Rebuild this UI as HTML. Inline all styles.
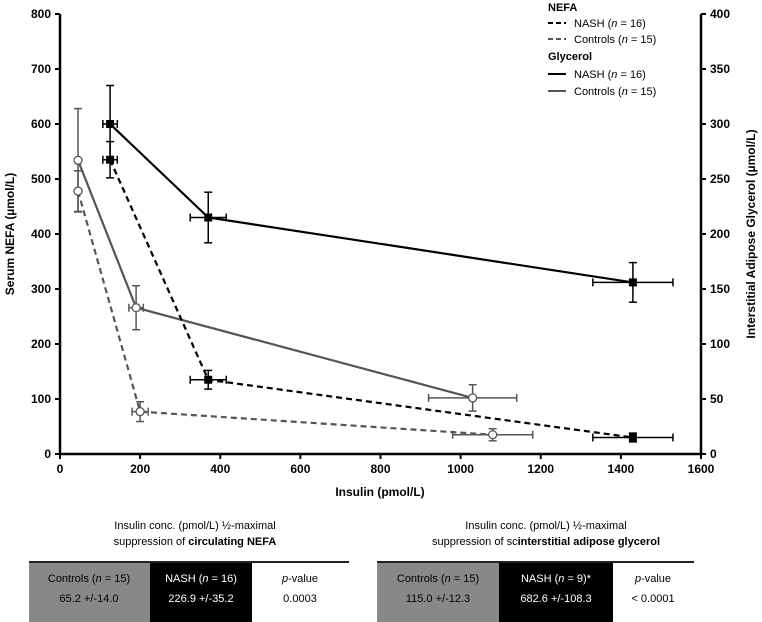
<!DOCTYPE html>
<html><head><meta charset="utf-8"><style>
body{margin:0;background:#fff;width:762px;height:622px;overflow:hidden;font-family:"Liberation Sans",Arial,sans-serif}
svg{position:absolute;left:0;top:0}
</style></head><body>
<svg width="762" height="622" font-family="Liberation Sans, Arial, sans-serif">
<g id="axes"></g>
<g id="series"></g>
<g id="legend">
 <text x="548" y="11" font-size="11" font-weight="bold">NEFA</text>
 <line x1="548" y1="23" x2="566" y2="23" stroke="#000" stroke-width="2" stroke-dasharray="5,3"/>
 <text x="574" y="27" font-size="11">NASH (<tspan font-style="italic">n</tspan> = 16)</text>
 <line x1="548" y1="39" x2="566" y2="39" stroke="#555" stroke-width="2" stroke-dasharray="5,3"/>
 <text x="574" y="43" font-size="11">Controls (<tspan font-style="italic">n</tspan> = 15)</text>
 <text x="548" y="60" font-size="11" font-weight="bold">Glycerol</text>
 <line x1="548" y1="74" x2="566" y2="74" stroke="#000" stroke-width="2"/>
 <text x="574" y="78" font-size="11">NASH (<tspan font-style="italic">n</tspan> = 16)</text>
 <line x1="548" y1="91" x2="566" y2="91" stroke="#555" stroke-width="2"/>
 <text x="574" y="95" font-size="11">Controls (<tspan font-style="italic">n</tspan> = 15)</text>
</g>
<text x="380" y="496" text-anchor="middle" font-size="12" font-weight="bold">Insulin (pmol/L)</text>
<text transform="translate(14,234) rotate(-90)" text-anchor="middle" font-size="12" font-weight="bold">Serum NEFA (µmol/L)</text>
<text transform="translate(755,234) rotate(-90)" text-anchor="middle" font-size="12" font-weight="bold">Interstitial Adipose Glycerol (µmol/L)</text>

<g font-size="11">
 <text x="195" y="529" text-anchor="middle">Insulin conc. (pmol/L) ½-maximal</text>
 <text x="195" y="545" text-anchor="middle">suppression of <tspan font-weight="bold">circulating NEFA</tspan></text>
 <rect x="29" y="562" width="121" height="60" fill="#888"/>
 <rect x="150" y="562" width="102" height="60" fill="#000"/>
 <line x1="29" y1="562" x2="349" y2="562" stroke="#222" stroke-width="2"/>
 <text x="89" y="582" text-anchor="middle">Controls (<tspan font-style="italic">n</tspan> = 15)</text>
 <text x="201" y="582" text-anchor="middle" fill="#fff">NASH (<tspan font-style="italic">n</tspan> = 16)</text>
 <text x="300" y="582" text-anchor="middle"><tspan font-style="italic">p</tspan>-value</text>
 <text x="89" y="602" text-anchor="middle">65.2 +/-14.0</text>
 <text x="201" y="602" text-anchor="middle" fill="#fff">226.9 +/-35.2</text>
 <text x="300" y="602" text-anchor="middle">0.0003</text>
</g>
<g font-size="11">
 <text x="546" y="529" text-anchor="middle">Insulin conc. (pmol/L) ½-maximal</text>
 <text x="546" y="545" text-anchor="middle">suppression of sc<tspan font-weight="bold">interstitial adipose glycerol</tspan></text>
 <rect x="377" y="562" width="122" height="60" fill="#888"/>
 <rect x="499" y="562" width="114" height="60" fill="#000"/>
 <line x1="377" y1="562" x2="694" y2="562" stroke="#222" stroke-width="2"/>
 <text x="438" y="582" text-anchor="middle">Controls (<tspan font-style="italic">n</tspan> = 15)</text>
 <text x="556" y="582" text-anchor="middle" fill="#fff">NASH (<tspan font-style="italic">n</tspan> = 9)*</text>
 <text x="653" y="582" text-anchor="middle"><tspan font-style="italic">p</tspan>-value</text>
 <text x="438" y="602" text-anchor="middle">115.0 +/-12.3</text>
 <text x="556" y="602" text-anchor="middle" fill="#fff">682.6 +/-108.3</text>
 <text x="653" y="602" text-anchor="middle">&lt; 0.0001</text>
</g>
</svg>
<script>
const xTicks=[0,200,400,600,800,1000,1200,1400,1600];
const yLeftTicks=[0,100,200,300,400,500,600,700,800];
const yRightTicks=[0,50,100,150,200,250,300,350,400];
// NEFA (left axis)
const nefaNashX=[125,370,1430], nefaNashY=[535,135,30], nefaNashYErr=[33,17,8], nefaNashXErr=[18,45,100];
const nefaCtrlX=[45,200,1080], nefaCtrlY=[478,77,35], nefaCtrlYErr=[37,18,11], nefaCtrlXErr=[0,20,100];
// Glycerol (right axis)
const glyNashX=[125,370,1430], glyNashY=[300,215,156], glyNashYErr=[35,23,18], glyNashXErr=[18,45,100];
const glyCtrlX=[45,190,1030], glyCtrlY=[267,133,51], glyCtrlYErr=[47,20,12], glyCtrlXErr=[0,18,110];

const NS='http://www.w3.org/2000/svg';
const X0=60,X1=701,Y0=454,Y1=14;
const sx=v=>X0+(X1-X0)*v/1600;
const syL=v=>Y0-(Y0-Y1)*v/800;
const syR=v=>Y0-(Y0-Y1)*v/400;
function mk(tag,attrs,parent){const e=document.createElementNS(NS,tag);for(const k in attrs)e.setAttribute(k,attrs[k]);parent.appendChild(e);return e;}
const ax=document.getElementById('axes');
let e;
e=mk('line',{x1:X0,y1:Y1,x2:X0,y2:Y0,stroke:'#000','stroke-width':2.5},ax);


e=mk('line',{x1:X1,y1:Y1,x2:X1,y2:Y0,stroke:'#000','stroke-width':2.5},ax);


e=mk('line',{x1:X0,y1:Y0,x2:X1,y2:Y0,stroke:'#000','stroke-width':2.5},ax);


xTicks.forEach(v=>{mk('line',{x1:sx(v),y1:Y0,x2:sx(v),y2:Y0+5,stroke:'#000','stroke-width':2},ax);
 const t=mk('text',{x:sx(v),y:Y0+19,'text-anchor':'middle','font-size':12,'font-weight':'bold'},ax);t.textContent=v;
 
 });
yLeftTicks.forEach(v=>{mk('line',{x1:X0-5,y1:syL(v),x2:X0,y2:syL(v),stroke:'#000','stroke-width':2},ax);
 const t=mk('text',{x:X0-9,y:syL(v)+4,'text-anchor':'end','font-size':12,'font-weight':'bold'},ax);t.textContent=v;
 
 });
yRightTicks.forEach(v=>{mk('line',{x1:X1,y1:syR(v),x2:X1+5,y2:syR(v),stroke:'#000','stroke-width':2},ax);
 const t=mk('text',{x:X1+9,y:syR(v)+4,'text-anchor':'start','font-size':12,'font-weight':'bold'},ax);t.textContent=v;
 
 });

const sg=document.getElementById('series');
function series(name,xs,ys,ye,xe,sy,color,dash,filled){
 const g=mk('g',{},sg);
 
 
 const pts=xs.map((x,i)=>sx(x)+','+sy(ys[i])).join(' ');
 const a={points:pts,fill:'none',stroke:color,'stroke-width':2.2};if(dash)a['stroke-dasharray']='6,4';
 mk('polyline',a,g);
 xs.forEach((x,i)=>{const cx=sx(x),cy=sy(ys[i]);
  const y1=sy(ys[i]+ye[i]),y2=sy(ys[i]-ye[i]);
  mk('line',{x1:cx,y1:y1,x2:cx,y2:y2,stroke:color,'stroke-width':1.5},g);
  mk('line',{x1:cx-4,y1:y1,x2:cx+4,y2:y1,stroke:color,'stroke-width':1.5},g);
  mk('line',{x1:cx-4,y1:y2,x2:cx+4,y2:y2,stroke:color,'stroke-width':1.5},g);
  if(xe[i]>0){const a1=sx(x-xe[i]),a2=sx(x+xe[i]);
   mk('line',{x1:a1,y1:cy,x2:a2,y2:cy,stroke:color,'stroke-width':1.5},g);
   mk('line',{x1:a1,y1:cy-4,x2:a1,y2:cy+4,stroke:color,'stroke-width':1.5},g);
   mk('line',{x1:a2,y1:cy-4,x2:a2,y2:cy+4,stroke:color,'stroke-width':1.5},g);}
  if(filled){const m=mk('rect',{x:cx-4,y:cy-4,width:8,height:8,fill:color},g);
   
   }
  else{const m=mk('circle',{cx:cx,cy:cy,r:4,fill:'#fff',stroke:color,'stroke-width':1.3},g);
   
   }
 });
}
series('glycerol-controls',glyCtrlX,glyCtrlY,glyCtrlYErr,glyCtrlXErr,syR,'#555',false,false);
series('nefa-controls',nefaCtrlX,nefaCtrlY,nefaCtrlYErr,nefaCtrlXErr,syL,'#555',true,false);
series('glycerol-nash',glyNashX,glyNashY,glyNashYErr,glyNashXErr,syR,'#000',false,true);
series('nefa-nash',nefaNashX,nefaNashY,nefaNashYErr,nefaNashXErr,syL,'#000',true,true);
</script>
</body></html>
